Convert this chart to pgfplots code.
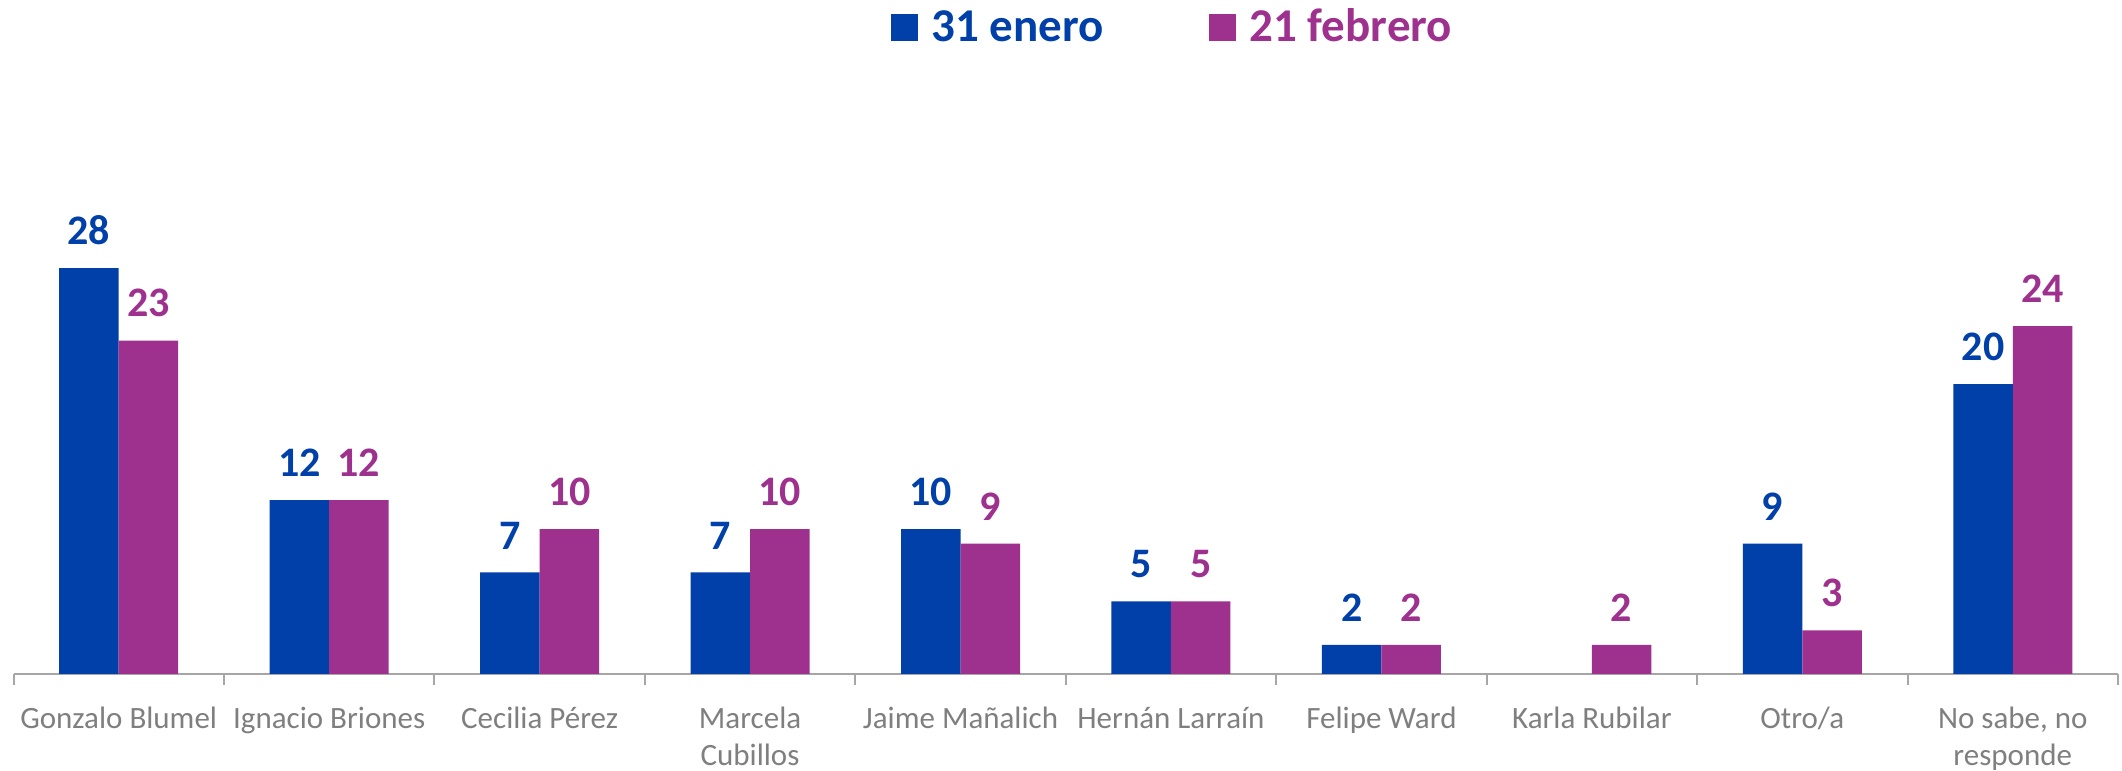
\documentclass[border=0pt]{standalone}
\usepackage{fontspec}
\setmainfont{Carlito}
\usepackage{pgfplots}
\pgfplotsset{compat=1.18}
\definecolor{cblue}{HTML}{0040A8}
\definecolor{cpurp}{HTML}{9E308E}
\definecolor{cgray}{HTML}{7F7F7F}
\definecolor{agray}{HTML}{A6A6A6}
\begin{document}
\begin{tikzpicture}
\begin{axis}[
  scale only axis,
  width=1052.25pt, height=217.5pt,
  xmin=-0.5, xmax=9.5, ymin=0, ymax=30,
  clip=false,
  ybar=0pt, bar width=29.75pt,
  axis y line=none,
  axis x line=bottom,
  x axis line style={-, draw=agray, line width=1pt},
  ytick=\empty,
  xtick={0,...,9},
  xticklabels={{\strut Gonzalo Blumel},{\strut Ignacio Briones},{\strut Cecilia Pérez},{\strut Marcela\\Cubillos},{\strut Jaime Mañalich},{\strut Hernán Larraín},{\strut Felipe Ward},{\strut Karla Rubilar},{\strut Otro/a},{\strut No sabe, no\\responde}},
  major tick length=0pt,
  minor xtick={-0.5,0.5,...,9.5},
  minor tick length=5.5pt,
  tick align=outside,
  minor x tick style={draw=agray, line width=1pt},
  xticklabel style={font=\fontsize{15.5}{18.3}\selectfont, text=cgray, align=center, anchor=north, inner sep=0pt, yshift=-14.2pt},
  nodes near coords,
  /pgf/number format/assume math mode=true,
  every node near coord/.append style={font=\fontsize{21}{25}\selectfont\bfseries, anchor=south, inner sep=0pt, yshift=11.5pt},
  legend style={at={(axis cs:3.667,43.4)}, anchor=south west, draw=none, fill=none, inner sep=0pt,
    nodes={inner sep=0pt}, cells={anchor=base west},
    font=\fontsize{23.5}{28}\selectfont\bfseries,
    /tikz/every even column/.append style={column sep=52.5pt}},
  legend columns=2,
  legend image code/.code={\fill[#1] (0pt,0.3pt) rectangle (13.5pt,13.8pt); \path (20.4pt,0pt);},
]
\addplot[fill=cblue, draw=none, every node near coord/.append style={text=cblue}] coordinates {
(0,28) (1,12) (2,7) (3,7) (4,10) (5,5) (6,2) (8,9) (9,20)};
\addlegendentry{\textcolor{cblue}{31 enero}}
\addplot[fill=cpurp, draw=none, every node near coord/.append style={text=cpurp}] coordinates {
(0,23) (1,12) (2,10) (3,10) (4,9) (5,5) (6,2) (7,2) (8,3) (9,24)};
\addlegendentry{\textcolor{cpurp}{21 febrero}}
\end{axis}
\pgfresetboundingbox
\useasboundingbox (-6.75pt,-48.5pt) rectangle (1054.25pt,337pt);
\end{tikzpicture}
\end{document}
